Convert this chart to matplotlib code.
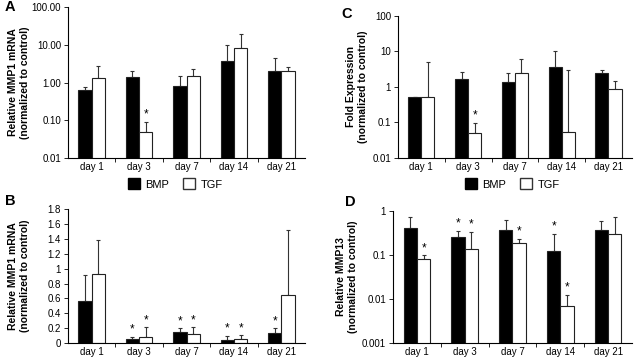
import matplotlib
matplotlib.use("Agg")
import matplotlib.pyplot as plt
import numpy as np
from matplotlib.patches import Patch
from matplotlib.ticker import FixedLocator, FuncFormatter

plt.rcParams['font.family'] = ['Liberation Sans', 'DejaVu Sans']

days = ["day 1", "day 3", "day 7", "day 14", "day 21"]

# A: MMP1 mRNA (log)
a_bmp = [0.63, 1.37, 0.79, 3.8, 2.06]
a_bmp_top = [0.745, 1.98, 1.46, 10.0, 4.37]
a_tgf = [1.32, 0.05, 1.49, 8.0, 2.06]
a_tgf_top = [2.7, 0.092, 2.23, 19.3, 2.63]
a_bmp_star = [False, False, False, False, False]
a_tgf_star = [False, True, False, False, False]

# B: MMP1 mRNA (linear)
b_bmp = [0.56, 0.05, 0.152, 0.04, 0.13]
b_bmp_top = [0.91, 0.08, 0.197, 0.094, 0.197]
b_tgf = [0.93, 0.085, 0.121, 0.058, 0.64]
b_tgf_top = [1.39, 0.21, 0.21, 0.103, 1.52]
b_bmp_star = [False, True, True, True, True]
b_tgf_star = [False, True, True, True, False]

# C: fold expression (log)
c_bmp = [0.51, 1.72, 1.35, 3.75, 2.48]
c_bmp_top = [0.51, 2.59, 2.48, 10.1, 3.0]
c_tgf = [0.52, 0.05, 2.54, 0.053, 0.9]
c_tgf_top = [4.95, 0.099, 6.15, 2.95, 1.47]
c_bmp_star = [False, False, False, False, False]
c_tgf_star = [False, True, False, False, False]

# D: MMP13 (log)
d_bmp = [0.41, 0.25, 0.36, 0.123, 0.36]
d_bmp_top = [0.72, 0.357, 0.62, 0.305, 0.58]
d_tgf = [0.083, 0.14, 0.19, 0.0069, 0.295]
d_tgf_top = [0.098, 0.34, 0.227, 0.0125, 0.74]
d_bmp_star = [False, True, False, True, False]
d_tgf_star = [True, True, True, True, False]


def panel(rect, bmp, bmp_top, tgf, tgf_top, bmp_star, tgf_star, ylabel,
          letter, letter_xy, ylim, yticks, fmt, log=True, labx=-0.2):
    ax = fig.add_axes(rect)
    x = np.arange(len(days))
    w = 0.28
    for vals, tops, stars, off, fc in [(bmp, bmp_top, bmp_star, -w / 2, "black"),
                                       (tgf, tgf_top, tgf_star, w / 2, "white")]:
        vals = np.array(vals)
        tops = np.array(tops)
        ax.bar(x + off, vals, w, color=fc, edgecolor="#222222", linewidth=0.8,
               zorder=2)
        ax.errorbar(x + off, vals, yerr=[np.zeros_like(vals), tops - vals],
                    fmt="none", ecolor="#333333", elinewidth=0.8, capsize=1.5,
                    capthick=0.8, zorder=1)
        for xi, t, s in zip(x + off, tops, stars):
            if s:
                ax.annotate("*", (xi, t), xytext=(0, 1), textcoords="offset points",
                            ha="center", va="bottom", fontsize=8.5)
    if log:
        ax.set_yscale("log")
    ax.set_ylim(*ylim)
    ax.yaxis.set_major_locator(FixedLocator(yticks))
    ax.yaxis.set_minor_locator(FixedLocator([]))
    ax.yaxis.set_major_formatter(FuncFormatter(fmt))
    ax.set_xlim(-0.5, 4.5)
    ax.set_xticks(x)
    ax.set_xticklabels(days)
    ax.set_xticks(np.arange(0.5, 4, 1), minor=True)
    ax.tick_params(axis="x", which="major", length=0, labelsize=7, pad=3)
    ax.tick_params(axis="x", which="minor", length=3, width=0.6, direction="out")
    ax.tick_params(axis="y", length=3, width=0.6, labelsize=7, pad=2)
    for s in ["top", "right"]:
        ax.spines[s].set_visible(False)
    for s in ["left", "bottom"]:
        ax.spines[s].set_linewidth(0.8)
    ax.set_ylabel(ylabel, fontsize=7.5, fontweight="bold", linespacing=1.2)
    ax.yaxis.set_label_coords(labx, 0.5)
    fig.text(letter_xy[0], letter_xy[1], letter, fontsize=10.5, fontweight="bold",
             ha="left", va="center")
    return ax


fig = plt.figure(figsize=(6.39, 3.57), dpi=100)

panel([0.1064, 0.5574, 0.371, 0.423], a_bmp, a_bmp_top, a_tgf, a_tgf_top,
      a_bmp_star, a_tgf_star, "Relative MMP1 mRNA\n(normalized to control)",
      "A", (5 / 639, 1 - 7 / 357), (0.01, 100), [0.01, 0.1, 1, 10, 100],
      lambda v, p: "%.2f" % v, labx=-0.16)

panel([0.1064, 0.0392, 0.371, 0.375], b_bmp, b_bmp_top, b_tgf, b_tgf_top,
      b_bmp_star, b_tgf_star, "Relative MMP1 mRNA\n(normalized to control)",
      "B", (5 / 639, 1 - 201 / 357), (0, 1.8), np.arange(0, 1.81, 0.2),
      lambda v, p: "%g" % round(v, 1), log=False, labx=-0.16)

panel([0.6228, 0.5574, 0.366, 0.398], c_bmp, c_bmp_top, c_tgf, c_tgf_top,
      c_bmp_star, c_tgf_star, "Fold Expression\n(normalized to control)",
      "C", (341 / 639, 1 - 14 / 357), (0.01, 100), [0.01, 0.1, 1, 10, 100],
      lambda v, p: "%g" % v, labx=-0.13)

panel([0.615, 0.0392, 0.374, 0.370], d_bmp, d_bmp_top, d_tgf, d_tgf_top,
      d_bmp_star, d_tgf_star, "Relative MMP13\n(normalized to control)",
      "D", (345 / 639, 1 - 202 / 357), (0.001, 1), [0.001, 0.01, 0.1, 1],
      lambda v, p: "%g" % v, labx=-0.146)

handles = [Patch(facecolor="black", edgecolor="black"),
           Patch(facecolor="white", edgecolor="#333333")]
for cx in [175 / 639, 512 / 639]:
    fig.legend(handles, ["BMP", "TGF"], loc="center",
               bbox_to_anchor=(cx, 1 - 184 / 357), ncol=2, frameon=False,
               handlelength=1.1, handleheight=1.1, handletextpad=0.5,
               columnspacing=1.2, fontsize=8)

fig.savefig("out.png", dpi=100)
